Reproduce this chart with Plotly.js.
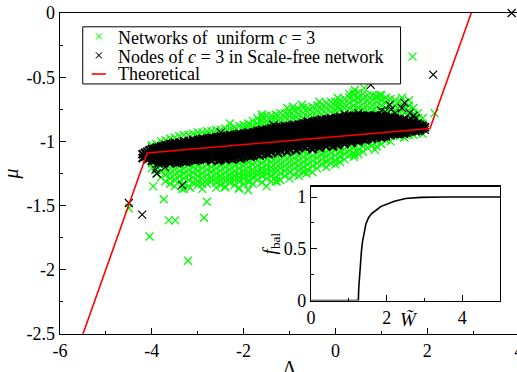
<!DOCTYPE html>
<html><head><meta charset="utf-8">
<script src="https://cdn.plot.ly/plotly-3.0.1.min.js"></script>
<style>html,body{margin:0;padding:0;overflow:hidden;background:#fff}#chart{width:540px;height:392px}</style>
</head><body><div id="chart"></div><script>
// ---- Theoretical curve ----
const theoryLambda = [-5.5, -4.1, 2.06, 2.96];
const theoryMu = [-2.5, -1.09, -0.90, 0];

// ---- Nodes of c=3 in scale-free network (black), dense band by Lambda column ----
const blackLambda = [-4.20,-4.15,-4.10,-4.05,-4.00,-3.95,-3.90,-3.85,-3.80,-3.75,-3.70,-3.65,-3.60,-3.55,-3.50,-3.45,-3.40,-3.35,-3.30,-3.25,-3.20,-3.15,-3.10,-3.05,-3.00,-2.95,-2.90,-2.85,-2.80,-2.75,-2.70,-2.65,-2.60,-2.55,-2.50,-2.45,-2.40,-2.35,-2.30,-2.25,-2.20,-2.15,-2.10,-2.05,-2.00,-1.95,-1.90,-1.85,-1.80,-1.75,-1.70,-1.65,-1.60,-1.55,-1.50,-1.45,-1.40,-1.35,-1.30,-1.25,-1.20,-1.15,-1.10,-1.05,-1.00,-0.95,-0.90,-0.85,-0.80,-0.75,-0.70,-0.65,-0.60,-0.55,-0.50,-0.45,-0.40,-0.35,-0.30,-0.25,-0.20,-0.15,-0.10,-0.05,0.00,0.05,0.10,0.15,0.20,0.25,0.30,0.35,0.40,0.45,0.50,0.55,0.60,0.65,0.70,0.75,0.80,0.85,0.90,0.95,1.00,1.05,1.10,1.15,1.20,1.25,1.30,1.35,1.40,1.45,1.50,1.55,1.60,1.65,1.70,1.75,1.80,1.85,1.90,1.95];
const blackMu = [
[-1.10,-1.13],[-1.09,-1.12],[-1.08,-1.11,-1.14],[-1.07,-1.10,-1.13],[-1.06,-1.09,-1.12,-1.15],
[-1.06,-1.09,-1.12,-1.15],[-1.05,-1.08,-1.11,-1.14],[-1.05,-1.08,-1.11,-1.14,-1.17],[-1.04,-1.07,-1.10,-1.13,-1.16],
[-1.04,-1.07,-1.10,-1.13,-1.16],[-1.03,-1.06,-1.09,-1.12,-1.15],[-1.03,-1.06,-1.09,-1.12,-1.15],
[-1.02,-1.05,-1.08,-1.11,-1.14,-1.17],[-1.02,-1.05,-1.08,-1.11,-1.14],[-1.01,-1.04,-1.07,-1.10,-1.13,-1.16],
[-1.02,-1.05,-1.08,-1.11,-1.14,-1.17],[-1.01,-1.04,-1.07,-1.10,-1.13,-1.16],[-1.02,-1.05,-1.08,-1.11,-1.14],
[-1.00,-1.03,-1.06,-1.09,-1.12,-1.15],[-1.01,-1.04,-1.07,-1.10,-1.13,-1.16],[-1.00,-1.03,-1.06,-1.09,-1.12,-1.15],
[-1.01,-1.04,-1.07,-1.10,-1.13],[-0.99,-1.02,-1.05,-1.08,-1.11,-1.14],[-1.00,-1.03,-1.06,-1.09,-1.12,-1.15],
[-0.99,-1.02,-1.05,-1.08,-1.11,-1.14],[-0.99,-1.02,-1.05,-1.08,-1.11,-1.14],[-0.98,-1.01,-1.04,-1.07,-1.10,-1.13],
[-0.99,-1.02,-1.05,-1.08,-1.11,-1.14],[-0.98,-1.01,-1.04,-1.07,-1.10,-1.13],[-0.98,-1.01,-1.04,-1.07,-1.10,-1.13],
[-0.97,-1.00,-1.03,-1.06,-1.09,-1.12,-1.15],[-0.98,-1.01,-1.04,-1.07,-1.10,-1.13],[-0.97,-1.00,-1.03,-1.06,-1.09,-1.12],
[-0.97,-1.00,-1.03,-1.06,-1.09,-1.12,-1.15],[-0.96,-0.99,-1.02,-1.05,-1.08,-1.11,-1.14],[-0.97,-1.00,-1.03,-1.06,-1.09,-1.12],
[-0.96,-0.99,-1.02,-1.05,-1.08,-1.11,-1.14],[-0.96,-0.99,-1.02,-1.05,-1.08,-1.11],[-0.95,-0.98,-1.01,-1.04,-1.07,-1.10,-1.13],
[-0.96,-0.99,-1.02,-1.05,-1.08,-1.11,-1.14],[-0.95,-0.98,-1.01,-1.04,-1.07,-1.10,-1.13],[-0.95,-0.98,-1.01,-1.04,-1.07,-1.10],
[-0.94,-0.97,-1.00,-1.03,-1.06,-1.09,-1.12],[-0.95,-0.98,-1.01,-1.04,-1.07,-1.10,-1.13],[-0.94,-0.97,-1.00,-1.03,-1.06,-1.09,-1.12],
[-0.94,-0.97,-1.00,-1.03,-1.06,-1.09],[-0.93,-0.96,-0.99,-1.02,-1.05,-1.08,-1.11],[-0.94,-0.97,-1.00,-1.03,-1.06,-1.09,-1.12],
[-0.93,-0.96,-0.99,-1.02,-1.05,-1.08,-1.11],[-0.93,-0.96,-0.99,-1.02,-1.05,-1.08],[-0.92,-0.95,-0.98,-1.01,-1.04,-1.07,-1.10],
[-0.92,-0.95,-0.98,-1.01,-1.04,-1.07,-1.11],[-0.91,-0.94,-0.97,-1.00,-1.03,-1.06,-1.09],[-0.92,-0.95,-0.98,-1.01,-1.04,-1.07],
[-0.91,-0.94,-0.97,-1.00,-1.03,-1.06,-1.09],[-0.91,-0.94,-0.97,-1.00,-1.03,-1.06,-1.10],[-0.90,-0.93,-0.96,-0.99,-1.02,-1.05,-1.08],
[-0.90,-0.93,-0.96,-0.99,-1.02,-1.05],[-0.89,-0.92,-0.95,-0.98,-1.01,-1.04,-1.07],[-0.90,-0.93,-0.96,-0.99,-1.02,-1.05,-1.09],
[-0.89,-0.92,-0.95,-0.98,-1.01,-1.04,-1.07],[-0.89,-0.92,-0.95,-0.98,-1.01,-1.04],[-0.88,-0.91,-0.94,-0.97,-1.00,-1.03,-1.06],
[-0.89,-0.92,-0.95,-0.98,-1.01,-1.04,-1.08],[-0.88,-0.91,-0.94,-0.97,-1.00,-1.03,-1.06],[-0.88,-0.91,-0.94,-0.97,-1.00,-1.03],
[-0.87,-0.90,-0.93,-0.96,-0.99,-1.02,-1.05],[-0.88,-0.91,-0.94,-0.97,-1.00,-1.03,-1.07],[-0.87,-0.90,-0.93,-0.96,-0.99,-1.02,-1.05],
[-0.87,-0.90,-0.93,-0.96,-0.99,-1.02],[-0.86,-0.89,-0.92,-0.95,-0.98,-1.01,-1.04],[-0.86,-0.89,-0.92,-0.95,-0.98,-1.01,-1.05],
[-0.85,-0.88,-0.91,-0.94,-0.97,-1.00,-1.03],[-0.86,-0.89,-0.92,-0.95,-0.98,-1.01],[-0.85,-0.88,-0.91,-0.94,-0.97,-1.00,-1.03,-1.06],
[-0.85,-0.88,-0.91,-0.94,-0.97,-1.00,-1.03],[-0.84,-0.87,-0.90,-0.93,-0.96,-0.99,-1.02],[-0.84,-0.87,-0.90,-0.93,-0.96,-0.99,-1.02,-1.05],
[-0.83,-0.86,-0.89,-0.92,-0.95,-0.98,-1.01],[-0.84,-0.87,-0.90,-0.93,-0.96,-0.99,-1.02],[-0.83,-0.86,-0.89,-0.92,-0.95,-0.98,-1.01,-1.04],
[-0.83,-0.86,-0.89,-0.92,-0.95,-0.98,-1.01],[-0.82,-0.85,-0.88,-0.91,-0.94,-0.97,-1.00],[-0.83,-0.86,-0.89,-0.92,-0.95,-0.98,-1.01,-1.04],
[-0.82,-0.85,-0.88,-0.91,-0.94,-0.97,-1.00],[-0.82,-0.85,-0.88,-0.91,-0.94,-0.97,-1.00,-1.03],[-0.81,-0.84,-0.87,-0.90,-0.93,-0.96,-0.99],
[-0.82,-0.85,-0.88,-0.91,-0.94,-0.97,-1.00],[-0.81,-0.84,-0.87,-0.90,-0.93,-0.96,-0.99,-1.02],[-0.81,-0.84,-0.87,-0.90,-0.93,-0.96,-0.99],
[-0.80,-0.83,-0.86,-0.89,-0.92,-0.95,-0.98],[-0.81,-0.84,-0.87,-0.90,-0.93,-0.96,-0.99,-1.01],[-0.80,-0.83,-0.86,-0.89,-0.92,-0.95,-0.98],
[-0.81,-0.84,-0.87,-0.90,-0.93,-0.96,-0.99],[-0.80,-0.83,-0.86,-0.89,-0.92,-0.95,-0.98,-1.00],[-0.80,-0.83,-0.86,-0.89,-0.92,-0.95,-0.98],
[-0.80,-0.83,-0.86,-0.89,-0.92,-0.95,-0.98],[-0.81,-0.84,-0.87,-0.90,-0.93,-0.96,-0.99],[-0.80,-0.83,-0.86,-0.89,-0.92,-0.95,-0.98],
[-0.80,-0.83,-0.86,-0.89,-0.92,-0.95],[-0.81,-0.84,-0.87,-0.90,-0.93,-0.96,-0.98],[-0.80,-0.83,-0.86,-0.89,-0.92,-0.95],
[-0.80,-0.83,-0.86,-0.89,-0.92,-0.95,-0.97],[-0.81,-0.84,-0.87,-0.90,-0.93,-0.96],[-0.80,-0.83,-0.86,-0.89,-0.92,-0.95,-0.97],
[-0.81,-0.84,-0.87,-0.90,-0.93,-0.96],[-0.81,-0.84,-0.87,-0.90,-0.93,-0.96],[-0.82,-0.85,-0.88,-0.91,-0.94],
[-0.81,-0.84,-0.87,-0.90,-0.93,-0.95],[-0.82,-0.85,-0.88,-0.91,-0.94],[-0.82,-0.85,-0.88,-0.91,-0.94],
[-0.83,-0.86,-0.89,-0.92,-0.94],[-0.83,-0.86,-0.89,-0.92,-0.94],[-0.84,-0.87,-0.90,-0.93],
[-0.83,-0.86,-0.89,-0.92,-0.94],[-0.85,-0.88,-0.91,-0.93],[-0.84,-0.87,-0.90,-0.92],
[-0.86,-0.89,-0.92],[-0.85,-0.88,-0.91],[-0.87,-0.90,-0.92],[-0.86,-0.89,-0.91],
[-0.88,-0.91],[-0.88,-0.90],[-0.89]
];
const blackOutLambda = [3.84,2.13,0.77,1.18,1.22,1.51,1.62,1.66,1.84,1.82,1.37,1.08,0.50,-0.08,-0.30,-1.35,-4.50,-4.21,-3.34,-3.89,-3.92,-3.71,-3.31,-2.80,-2.37,-2.08,-4.14,1.30,1.00,1.45,1.75,0.20,-0.60,-2.50,-3.45,-3.20,-2.91,1.95,1.70];
const blackOutMu = [0,-0.48,-0.56,-0.715,-0.75,-0.70,-0.78,-0.83,-0.87,-0.92,-0.87,-0.77,-0.78,-0.83,-0.86,-0.87,-1.48,-1.57,-1.34,-1.25,-1.22,-1.20,-1.16,-1.14,-1.13,-1.14,-1.09,-0.78,-0.76,-0.74,-0.82,-0.79,-0.84,-0.93,-1.03,-1.03,-1.01,-0.91,-0.80];

// ---- Networks of uniform c=3 (green), by Lambda column ----
const greenLambda = [-4.0,-3.9,-3.8,-3.7,-3.6,-3.5,-3.4,-3.3,-3.2,-3.1,-3.0,-2.9,-2.8,-2.7,-2.6,-2.5,-2.4,-2.3,-2.2,-2.1,-2.0,-1.9,-1.8,-1.7,-1.6,-1.5,-1.4,-1.3,-1.2,-1.1,-1.0,-0.9,-0.8,-0.7,-0.6,-0.5,-0.4,-0.3,-0.2,-0.1,0.0,0.1,0.2,0.3,0.4,0.5,0.6,0.7,0.8,0.9,1.0,1.1,1.2,1.3,1.4,1.5,1.6,1.7,1.8,1.9];
const greenMu = [
[-1.03,-1.17,-1.21],[-1.02,-1.17,-1.21,-1.25],[-1.00,-1.19,-1.23,-1.28],[-0.99,-1.18,-1.22,-1.26,-1.31],
[-0.98,-1.17,-1.21,-1.25,-1.29,-1.33],[-0.97,-1.18,-1.22,-1.26,-1.30,-1.35],[-0.96,-1.15,-1.19,-1.23,-1.27,-1.31],
[-0.95,-1.17,-1.21,-1.25,-1.29,-1.33,-1.37],[-0.95,-1.14,-1.18,-1.22,-1.26,-1.30,-1.35],[-0.94,-1.16,-1.20,-1.24,-1.28,-1.32],
[-0.93,-0.96,-1.15,-1.19,-1.23,-1.27,-1.31,-1.34],[-0.93,-0.96,-1.17,-1.21,-1.25,-1.29,-1.33,-1.37],[-0.92,-0.95,-1.14,-1.18,-1.22,-1.26,-1.30,-1.33],
[-0.92,-0.95,-1.16,-1.20,-1.24,-1.28,-1.31],[-0.91,-0.94,-1.13,-1.17,-1.21,-1.25,-1.29,-1.32,-1.36],[-0.91,-0.94,-1.15,-1.19,-1.23,-1.27,-1.30,-1.34],
[-0.90,-0.93,-1.12,-1.16,-1.20,-1.24,-1.28,-1.31,-1.35],[-0.90,-0.93,-1.14,-1.18,-1.22,-1.26,-1.29,-1.32],[-0.89,-0.92,-1.11,-1.15,-1.19,-1.23,-1.27,-1.30,-1.34],
[-0.88,-0.92,-1.13,-1.17,-1.21,-1.25,-1.28,-1.31,-1.37],[-0.87,-0.90,-1.11,-1.15,-1.19,-1.23,-1.26,-1.29,-1.33],[-0.86,-0.89,-0.92,-1.12,-1.16,-1.20,-1.24,-1.27,-1.31],
[-0.84,-0.88,-0.91,-1.10,-1.14,-1.18,-1.22,-1.25,-1.28,-1.33],[-0.82,-0.86,-0.89,-1.11,-1.15,-1.19,-1.23,-1.26,-1.30],[-0.81,-0.84,-0.87,-0.90,-1.09,-1.13,-1.17,-1.21,-1.24,-1.27,-1.32],
[-0.80,-0.84,-0.87,-0.90,-1.10,-1.14,-1.18,-1.22,-1.25,-1.29,-1.35],[-0.80,-0.83,-0.86,-0.89,-1.08,-1.12,-1.16,-1.20,-1.23,-1.27,-1.31],[-0.79,-0.82,-0.86,-0.89,-1.09,-1.13,-1.17,-1.21,-1.24,-1.28,-1.31],
[-0.78,-0.82,-0.85,-0.88,-1.06,-1.10,-1.14,-1.18,-1.21,-1.25,-1.30],[-0.78,-0.81,-0.85,-0.88,-1.07,-1.11,-1.15,-1.19,-1.23,-1.27],
[-0.77,-0.80,-0.84,-1.04,-1.08,-1.12,-1.16,-1.20,-1.24,-1.29],[-0.76,-0.80,-0.83,-1.05,-1.09,-1.13,-1.17,-1.21,-1.26],[-0.75,-0.79,-0.83,-1.03,-1.07,-1.11,-1.15,-1.19,-1.23,-1.27],
[-0.74,-0.78,-0.82,-1.04,-1.08,-1.12,-1.16,-1.20,-1.24],[-0.74,-0.77,-0.81,-1.02,-1.06,-1.10,-1.14,-1.18,-1.22],[-0.73,-0.77,-0.81,-1.03,-1.07,-1.11,-1.15,-1.19,-1.24],
[-0.72,-0.76,-0.80,-1.01,-1.05,-1.09,-1.13,-1.17,-1.21],[-0.71,-0.75,-0.79,-1.02,-1.06,-1.10,-1.14,-1.18],[-0.70,-0.74,-0.78,-1.00,-1.04,-1.08,-1.12,-1.16,-1.20],
[-0.69,-0.73,-0.77,-1.01,-1.05,-1.09,-1.13,-1.17],[-0.69,-0.72,-0.76,-0.79,-0.99,-1.03,-1.07,-1.11,-1.15,-1.18],[-0.68,-0.71,-0.75,-0.79,-1.00,-1.04,-1.08,-1.12,-1.16],
[-0.67,-0.71,-0.74,-0.78,-0.98,-1.02,-1.06,-1.10,-1.14],[-0.66,-0.70,-0.74,-0.78,-0.99,-1.03,-1.07,-1.11],[-0.64,-0.68,-0.72,-0.76,-0.97,-1.01,-1.05,-1.09,-1.12],
[-0.62,-0.66,-0.70,-0.74,-0.77,-0.98,-1.02,-1.06,-1.10],[-0.63,-0.67,-0.71,-0.75,-0.78,-0.96,-1.00,-1.04,-1.08],[-0.64,-0.68,-0.72,-0.76,-0.97,-1.01,-1.05],
[-0.64,-0.68,-0.72,-0.76,-0.79,-0.95,-0.99,-1.03],[-0.65,-0.69,-0.73,-0.77,-0.96,-1.00,-1.04],[-0.64,-0.68,-0.72,-0.76,-0.79,-0.95,-0.98,-1.02],
[-0.66,-0.70,-0.74,-0.78,-0.95,-0.99],[-0.67,-0.71,-0.75,-0.79,-0.96,-1.00],[-0.68,-0.72,-0.76,-0.80,-0.95],
[-0.69,-0.73,-0.77,-0.81,-0.96],[-0.70,-0.74,-0.78,-0.82,-0.97],[-0.72,-0.76,-0.80,-0.95],
[-0.74,-0.78,-0.82,-0.95],[-0.78,-0.82,-0.93],[-0.82,-0.86,-0.94]
];
const greenOutLambda = [-4.50,-3.74,-3.63,-3.49,-2.86,-2.80,-4.05,-3.21,-3.97,-3.34,-3.16,-2.40,-2.10,-1.90,-0.63,0.42,0.86,0.42,0.63,0.49,1.68,2.16,0.97,1.11,-4.00,-3.89,-1.86,-1.28,0.88,0.30,0.05,-0.35,-1.05,-1.60,-2.30,-0.92,-0.73,0.06,0.39,1.45,1.60];
const greenOutMu = [-1.52,-1.45,-1.615,-1.615,-1.595,-1.47,-1.74,-1.93,-1.35,-1.37,-1.36,-1.36,-1.36,-1.38,-1.25,-1.105,-1.066,-0.60,-0.585,-0.66,-0.34,-0.78,-0.64,-0.99,-1.04,-1.22,-1.31,-1.31,-0.65,-0.63,-0.66,-0.69,-0.74,-0.79,-0.86,-0.73,-0.715,-0.73,-0.62,-0.66,-0.68];

// ---- Inset: f_bal vs W~ ----
const wTilde = [0,1.25,1.26,1.28,1.30,1.33,1.36,1.40,1.45,1.52,1.60,1.71,1.85,2.00,2.20,2.50,2.90,3.50,5.00];
const fBal = [0,0,0.12,0.25,0.36,0.47,0.57,0.66,0.74,0.80,0.84,0.87,0.91,0.93,0.96,0.985,0.997,1,1];

// ---- Ticks ----
const xTickVals = [-6,-4,-2,0,2,4];
const xTickText = ['-6','-4','-2','0','2','4'];
const xMinorVals = [-5,-3,-1,1,3];
const yTickVals = [0,-0.5,-1,-1.5,-2,-2.5];
const yTickText = ['0','-0.5','-1','-1.5','-2','-2.5'];
const yMinorVals = [-0.25,-0.75,-1.25,-1.75,-2.25];
const x2TickVals = [0,2,4];
const x2TickText = ['0','2','4'];
const x2MinorVals = [1,3];
const y2TickVals = [0,0.5,1];
const y2TickText = ['0','0.5','1'];
const y2MinorVals = [0.25,0.75];

const legendLabels = ['Networks of\u00a0 uniform <i>c</i> = 3', 'Nodes of <i>c</i> = 3 in Scale-free network', 'Theoretical'];

function expand(cols, vals) {
  const xs = [], ys = [];
  cols.forEach((c, i) => vals[i].forEach(v => { xs.push(c); ys.push(v); }));
  return [xs, ys];
}
const [gX, gY] = expand(greenLambda, greenMu);
const [bX, bY] = expand(blackLambda, blackMu);
// dense core drawn with bolder strokes (it is thousands of overlapping points in the original)
const blackWidths = bX.map(() => 2.2).concat(blackOutLambda.map(() => 1.2));

const serif = '"Liberation Serif", "Times New Roman", Times, serif';
const traces = [
  {x: gX.concat(greenOutLambda), y: gY.concat(greenOutMu), type: 'scatter', mode: 'markers', name: legendLabels[0],
   marker: {symbol: 'x-thin', size: 8, line: {width: 1.3, color: '#00ff00'}}, showlegend: false, hoverinfo: 'skip'},
  {x: bX.concat(blackOutLambda), y: bY.concat(blackOutMu), type: 'scatter', mode: 'markers', name: legendLabels[1],
   marker: {symbol: 'x-thin', size: 8, line: {width: blackWidths, color: '#000000'}}, showlegend: false, hoverinfo: 'skip', cliponaxis: false},
  {x: theoryLambda, y: theoryMu, type: 'scatter', mode: 'lines', name: legendLabels[2],
   line: {color: '#ff0000', width: 1.6}, showlegend: false},
  {x: wTilde, y: fBal, type: 'scatter', mode: 'lines', xaxis: 'x2', yaxis: 'y2',
   line: {color: '#000', width: 1.6}, showlegend: false}
];

const axBase = {showgrid: false, zeroline: false, showline: true, linecolor: '#000', linewidth: 1.3, mirror: true,
  ticks: 'inside', ticklen: 6, tickwidth: 1, tickcolor: '#000', tickmode: 'array', tickfont: {family: serif, size: 18, color: '#000'}};

// Plot area: 459 x 321 px at (60, 13); the page is taller/wider than the 517x372 window, as in the original crop.
const layout = {
  width: 540, height: 392,
  margin: {l: 60, r: 21, t: 13, b: 58},
  paper_bgcolor: '#fff', plot_bgcolor: '#fff',
  showlegend: false,
  font: {family: serif, size: 18, color: '#000'},
  xaxis: Object.assign({}, axBase, {range: [-6, 4], tickvals: xTickVals, ticktext: xTickText,
    minor: {tickmode: 'array', tickvals: xMinorVals, ticks: 'inside', ticklen: 3, tickcolor: '#000', showgrid: false},
    title: {text: 'Λ', font: {family: serif, size: 20}, standoff: 1}}),
  yaxis: Object.assign({}, axBase, {range: [-2.5, 0], tickvals: yTickVals, ticktext: yTickText,
    minor: {tickmode: 'array', tickvals: yMinorVals, ticks: 'inside', ticklen: 3, tickcolor: '#000', showgrid: false},
    title: {text: '<i>μ</i>', font: {family: serif, size: 20}, standoff: 4}}),
  xaxis2: Object.assign({}, axBase, {domain: [0.547, 0.959], anchor: 'y2', range: [0, 5], tickvals: x2TickVals, ticktext: x2TickText,
    minor: {tickmode: 'array', tickvals: x2MinorVals, ticks: 'inside', ticklen: 3, tickcolor: '#000', showgrid: false}}),
  yaxis2: Object.assign({}, axBase, {domain: [0.104, 0.459], anchor: 'x2', range: [0, 1.1], tickvals: y2TickVals, ticktext: y2TickText,
    minor: {tickmode: 'array', tickvals: y2MinorVals, ticks: 'inside', ticklen: 3, tickcolor: '#000', showgrid: false},
    title: {text: '<i>f</i><sub>bal</sub>', font: {family: serif, size: 19}, standoff: 2}}),
  shapes: [
    {type: 'rect', xref: 'paper', yref: 'paper', x0: 0.0495, x1: 0.742, y0: 0.779, y1: 0.957,
     line: {color: '#000', width: 1}, fillcolor: '#fff', layer: 'above'},
    {type: 'line', xref: 'paper', yref: 'paper', x0: 0.069, x1: 0.1, y0: 0.81, y1: 0.81,
     line: {color: '#ff0000', width: 1.6}, layer: 'above'}
  ],
  annotations: [
    {xref: 'paper', yref: 'paper', x: 0.0845, y: 0.926, text: '×', showarrow: false, xanchor: 'center', yanchor: 'middle', font: {family: serif, size: 17, color: '#00ff00'}},
    {xref: 'paper', yref: 'paper', x: 0.0845, y: 0.867, text: '×', showarrow: false, xanchor: 'center', yanchor: 'middle', font: {family: serif, size: 17, color: '#000'}},
    {xref: 'paper', yref: 'paper', x: 0.121, y: 0.922, text: legendLabels[0], showarrow: false, xanchor: 'left', yanchor: 'middle', font: {family: serif, size: 18}},
    {xref: 'paper', yref: 'paper', x: 0.121, y: 0.863, text: legendLabels[1], showarrow: false, xanchor: 'left', yanchor: 'middle', font: {family: serif, size: 18}},
    {xref: 'paper', yref: 'paper', x: 0.121, y: 0.810, text: legendLabels[2], showarrow: false, xanchor: 'left', yanchor: 'middle', font: {family: serif, size: 18}},
    {xref: 'x2 domain', yref: 'y2 domain', x: 0.52, y: -0.17, text: '<i>W\u0303</i>', showarrow: false, xanchor: 'center', yanchor: 'middle', font: {family: serif, size: 19}}
  ]
};

Plotly.newPlot('chart', traces, layout, {staticPlot: true, displayModeBar: false});
</script></body></html>
